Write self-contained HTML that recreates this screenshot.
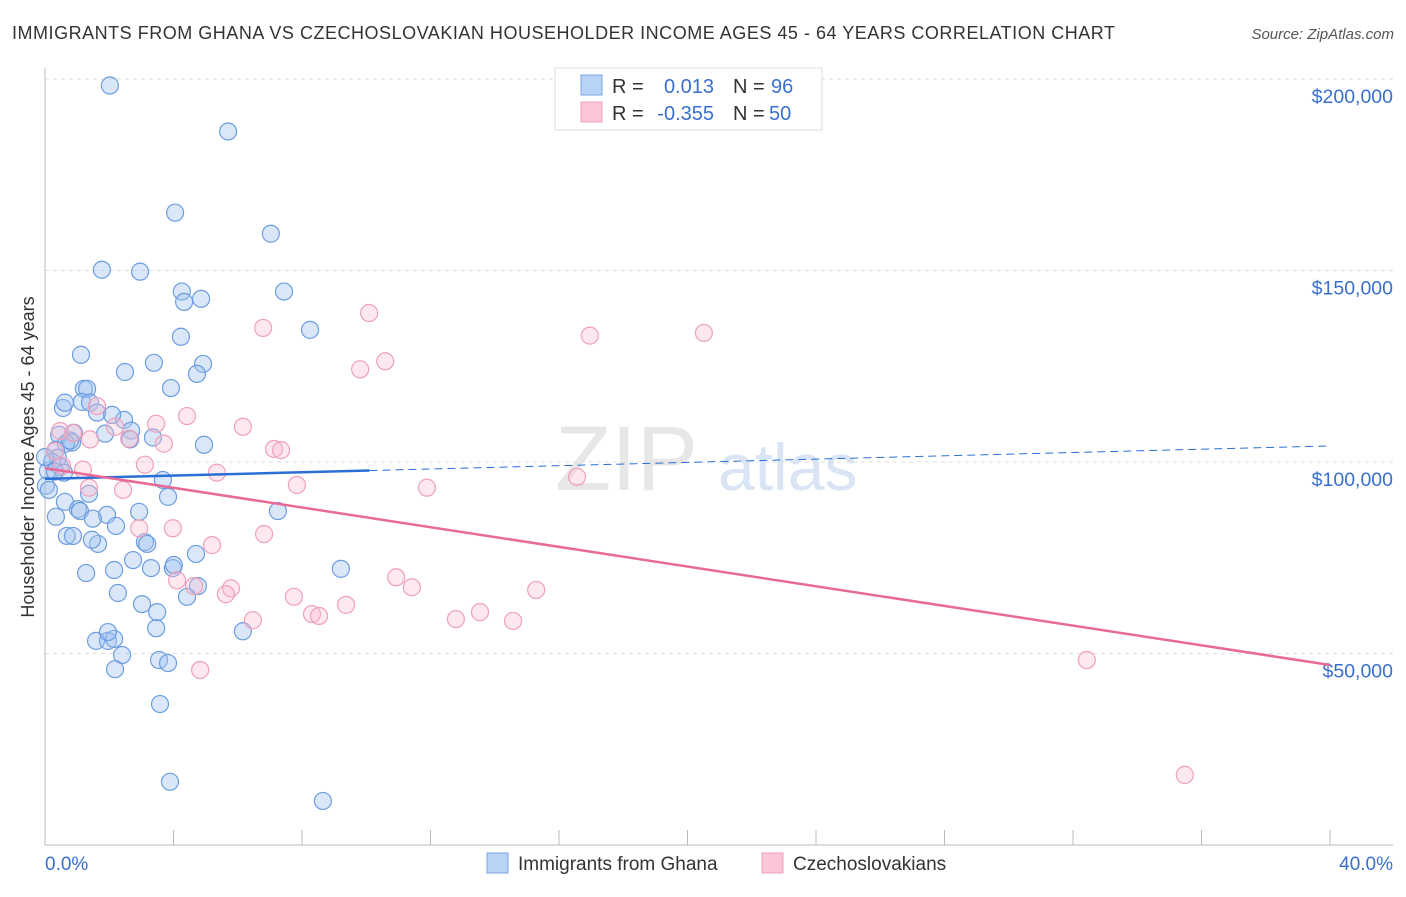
<!DOCTYPE html>
<html><head><meta charset="utf-8"><style>
body{margin:0;background:#fff;font-family:"Liberation Sans",sans-serif;}
svg text{font-family:"Liberation Sans",sans-serif;}
</style></head><body>
<svg id="chart" width="1406" height="892" xmlns="http://www.w3.org/2000/svg">
<text x="12" y="39" font-size="18" fill="#333" textLength="1103" lengthAdjust="spacing">IMMIGRANTS FROM GHANA VS CZECHOSLOVAKIAN HOUSEHOLDER INCOME AGES 45 - 64 YEARS CORRELATION CHART</text>
<text x="1394" y="39" font-size="15" fill="#555" font-style="italic" text-anchor="end">Source: ZipAtlas.com</text>
<g id="grid"></g>
<text x="555" y="490" font-size="92" fill="#ddd" font-family="Liberation Serif" opacity="0.7">ZIP</text>
<text x="718" y="490" font-size="66" fill="#c9daf0" opacity="0.7">atlas</text>
<g id="pts"></g>
<g id="lines"></g>
<text transform="translate(34,457) rotate(-90)" font-size="18" fill="#333" text-anchor="middle">Householder Income Ages 45 - 64 years</text>
<text x="45" y="870" font-size="19" fill="#3a6fd0">0.0%</text>
<text x="1393" y="870" font-size="19" fill="#3a6fd0" text-anchor="end">40.0%</text>
<g>
<rect x="555" y="68" width="267" height="62" fill="#fff" stroke="#ddd"/>
<rect x="581" y="75" width="21" height="20" fill="#b8d3f5" stroke="#7aa6e0"/>
<rect x="581" y="102" width="21" height="20" fill="#fbc7d6" stroke="#eea0b8"/>
<text x="612" y="93" font-size="20" fill="#333">R =</text><text x="714" y="93" font-size="20" fill="#3a6fd0" text-anchor="end">0.013</text>
<text x="733" y="93" font-size="20" fill="#333">N =</text><text x="771" y="93" font-size="20" fill="#3a6fd0">96</text>
<text x="612" y="120" font-size="20" fill="#333">R =</text><text x="714" y="120" font-size="20" fill="#3a6fd0" text-anchor="end">-0.355</text>
<text x="733" y="120" font-size="20" fill="#333">N =</text><text x="769" y="120" font-size="20" fill="#3a6fd0">50</text>
</g>
<g>
<rect x="487" y="853" width="21" height="20" fill="#b8d3f5" stroke="#7aa6e0"/>
<text x="518" y="870" font-size="19" fill="#333">Immigrants from Ghana</text></g>
<g>
<rect x="762" y="853" width="21" height="20" fill="#fbc7d6" stroke="#eea0b8"/>
<text x="793" y="870" font-size="19" fill="#333">Czechoslovakians</text></g>
</svg>
<script>
const yTicks=[50000,100000,150000,200000];
const yTickLabels=["$50,000","$100,000","$150,000","$200,000"];
const xTicks=[0,4,8,12,16,20,24,28,32,36,40];
const blueX=[2.02,5.70,4.05,7.03,1.77,2.96,4.26,7.44,4.86,4.33,8.25,4.23,1.12,4.92,3.39,2.49,4.73,3.92,1.21,1.31,0.56,1.15,1.40,1.62,2.46,2.09,2.68,0.90,0.44,1.87,2.65,3.36,0.84,4.95,0.65,0.34,0.40,0.47,0.09,0.03,0.12,3.67,3.83,1.37,0.62,1.03,1.09,1.93,1.49,2.93,7.25,0.34,2.21,0.68,0.87,1.65,3.11,1.46,4.70,2.74,3.18,3.98,4.01,3.30,1.28,2.15,4.76,4.42,2.27,3.02,3.49,9.21,3.46,6.16,1.59,1.96,2.15,1.96,2.40,3.55,3.83,2.18,3.58,3.89,8.65,0.59,0.22,0.31,0.00,0.78,0.62];
const blueY=[198.3,186.3,165.1,159.6,150.2,149.7,144.5,144.5,142.6,141.8,134.5,132.7,128.0,125.6,125.9,123.5,123.0,119.3,119.1,119.1,114.1,115.7,115.5,112.9,111.0,112.3,108.2,107.6,107.1,107.4,105.9,106.4,105.1,104.5,104.8,103.2,101.1,98.7,97.7,93.8,92.7,95.3,90.9,91.7,89.6,87.7,87.2,86.2,85.2,87.0,87.2,85.7,83.3,80.7,80.7,78.6,79.1,79.7,76.0,74.4,78.6,72.3,73.1,72.3,71.0,71.8,67.6,64.8,65.8,62.9,60.8,72.1,56.6,55.8,53.3,53.3,53.8,55.6,49.6,48.3,47.5,45.9,36.8,16.5,11.5,97.2,100.0,97.5,101.3,105.6,115.5];
const pinkX=[10.09,6.79,16.96,20.51,10.59,9.81,1.62,4.42,0.87,2.18,3.46,6.16,2.62,3.70,7.13,7.35,1.18,3.11,5.35,11.89,16.56,7.84,2.43,1.37,6.82,2.93,3.98,5.20,4.11,5.79,4.64,5.63,10.93,11.42,7.75,9.37,8.31,8.53,12.79,13.54,14.57,15.29,6.47,4.83,32.43,35.48,0.47,0.31,0.53,1.40];
const pinkY=[138.9,135.0,133.0,133.7,126.3,124.2,114.6,112.0,107.6,109.2,110.0,109.2,106.1,104.8,103.4,103.1,98.0,99.3,97.2,93.3,96.1,94.0,92.7,93.3,81.2,82.7,82.7,78.3,69.1,67.0,67.6,65.5,69.9,67.3,64.8,62.7,60.3,59.8,59.0,60.8,58.5,66.6,58.7,45.7,48.3,18.3,108.1,102.8,99.0,105.9];
const blueTrend=[95600,104200];
const pinkTrend=[98400,47000];
const NS="http://www.w3.org/2000/svg";
const X=v=>45+v/40*1285;
const Y=v=>845-v/50000*191.5;
function mk(tag,attrs,parent){const e=document.createElementNS(NS,tag);for(const k in attrs)e.setAttribute(k,attrs[k]);parent.appendChild(e);return e;}
const grid=document.getElementById('grid');
yTicks.forEach((t,i)=>{
  const l=mk('line',{x1:45,x2:1393,y1:Y(t),y2:Y(t),stroke:'#ddd','stroke-dasharray':'4,4'},grid);
  
  
  const tx=mk('text',{x:1393,y:Y(t)+24,'font-size':19.5,fill:'#3a6fd0','text-anchor':'end'},grid);
  tx.textContent=yTickLabels[i];
  
  
});
const ax=mk('line',{x1:45,x2:45,y1:68,y2:845,stroke:'#bbb'},grid);


const bx=mk('line',{x1:45,x2:1393,y1:845,y2:845,stroke:'#bbb'},grid);


xTicks.forEach(t=>{
  const l=mk('line',{x1:X(t),x2:X(t),y1:830,y2:845,stroke:'#bbb'},grid);
  
  
});
const pts=document.getElementById('pts');
blueX.forEach((x,i)=>{
  const c=mk('circle',{cx:X(x),cy:Y(blueY[i]*1000),r:8.5,fill:'rgba(160,196,240,0.4)',stroke:'#6d9de0','stroke-width':1.2},pts);
  
  
});
pinkX.forEach((x,i)=>{
  const c=mk('circle',{cx:X(x),cy:Y(pinkY[i]*1000),r:8.5,fill:'rgba(248,190,208,0.35)',stroke:'#efa0ba','stroke-width':1.2},pts);
  
  
});
const lines=document.getElementById('lines');
const bAt=x=>blueTrend[0]+(blueTrend[1]-blueTrend[0])*x/40;
const b1=mk('line',{x1:X(0),y1:Y(bAt(0)),x2:X(10.1),y2:Y(bAt(10.1)),stroke:'#2a6fd6','stroke-width':2.5},lines);


const b2=mk('line',{x1:X(10.1),y1:Y(bAt(10.1)),x2:X(40),y2:Y(bAt(40)),stroke:'#2a6fd6','stroke-width':1,'stroke-dasharray':'8,5'},lines);


const p1=mk('line',{x1:X(0),y1:Y(pinkTrend[0]),x2:X(40),y2:Y(pinkTrend[1]),stroke:'#e86a96','stroke-width':2.5},lines);


</script>
</body></html>
